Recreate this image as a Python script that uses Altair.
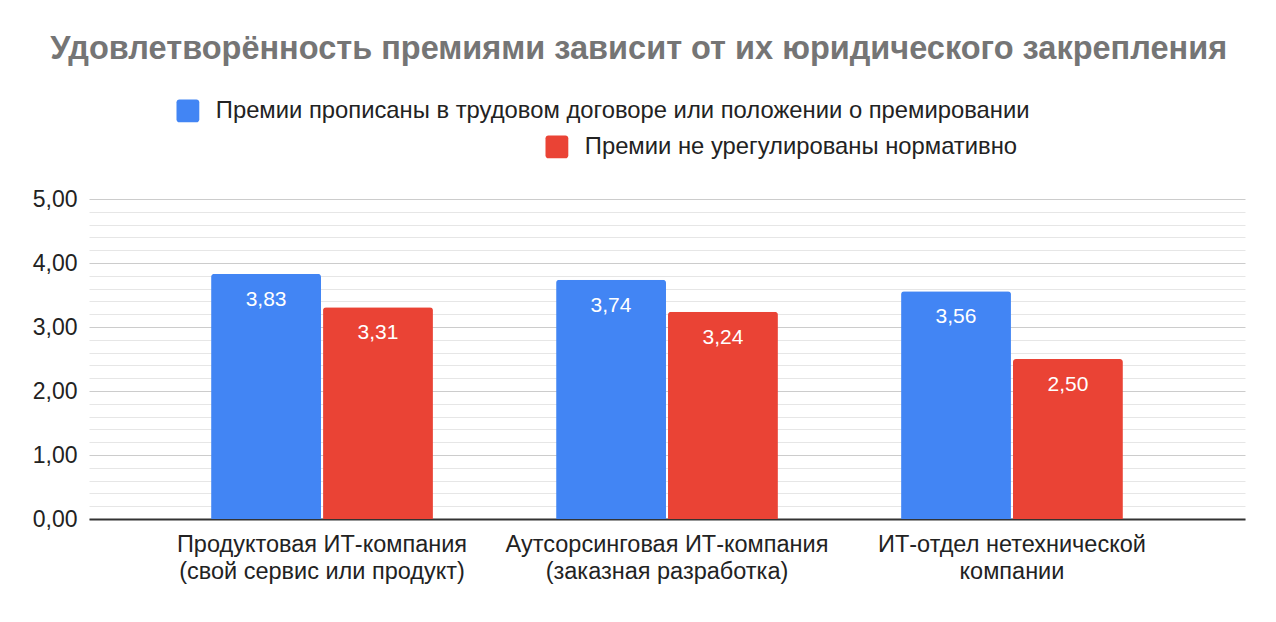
import altair as alt
import pandas as pd

categories = [
    "Продуктовая ИТ-компания\n(свой сервис или продукт)",
    "Аутсорсинговая ИТ-компания\n(заказная разработка)",
    "ИТ-отдел нетехнической\nкомпании",
]
series = [
    "Премии прописаны в трудовом договоре или положении о премировании",
    "Премии не урегулированы нормативно",
]
values_regulated = [3.83, 3.74, 3.56]
values_unregulated = [3.31, 3.24, 2.50]
colors = ["#4285F4", "#EA4335"]

rows = []
for c, v in zip(categories, values_regulated):
    rows.append({"cat": c, "series": series[0], "v": v})
for c, v in zip(categories, values_unregulated):
    rows.append({"cat": c, "series": series[1], "v": v})
df = pd.DataFrame(rows)

rounded = ("M -0.75 -1 L 0.75 -1 A 0.25 0.25 0 0 1 1 -0.75 L 1 0.75 "
           "A 0.25 0.25 0 0 1 0.75 1 L -0.75 1 A 0.25 0.25 0 0 1 -1 0.75 "
           "L -1 -0.75 A 0.25 0.25 0 0 1 -0.75 -1 Z")

FONT = "Liberation Sans"

x_enc = alt.X(
    "cat:N",
    sort=categories,
    scale=alt.Scale(paddingInner=0.357, paddingOuter=0.354),
    axis=alt.Axis(
        title=None,
        labelAngle=0,
        labelExpr="split(datum.label, '\\n')",
        labelFont=FONT,
        labelFontSize=23.5,
        labelColor="#222222",
        labelPadding=13,
        labelLineHeight=27,
        labelLimit=1000,
        ticks=False,
        domain=True,
        domainColor="#333333",
        domainWidth=2,
        grid=False,
    ),
)
xoff = alt.XOffset("series:N", sort=series, scale=alt.Scale(paddingInner=0.018, paddingOuter=0))

y_axis = alt.Axis(
    title=None,
    tickCount=25,
    labelExpr="datum.value % 1 === 0 ? replace(format(datum.value, '.2f'), '.', ',') : ''",
    labelFont=FONT,
    labelFontSize=23,
    labelColor="#222222",
    labelPadding=12,
    labelOverlap=False,
    ticks=False,
    domain=False,
    grid=True,
    gridColor={"condition": {"test": "datum.value % 1 === 0", "value": "#cccccc"}, "value": "#e6e6e6"},
    gridWidth=1,
)
y_enc = alt.Y("v:Q", scale=alt.Scale(domain=[0, 5], nice=False), axis=y_axis)

base = alt.Chart(df)


def bar_layer(i, lx, ly):
    return base.transform_filter(alt.datum.series == series[i]).mark_bar(
        cornerRadiusTopLeft=3, cornerRadiusTopRight=3
    ).encode(
        x=x_enc,
        xOffset=xoff,
        y=y_enc,
        color=alt.Color(
            "series:N",
            scale=alt.Scale(domain=[series[i]], range=[colors[i]]),
            legend=alt.Legend(
                title=None,
                orient="none",
                legendX=lx,
                legendY=ly,
                symbolType=rounded,
                symbolSize=520,
                symbolStrokeWidth=0,
                labelFont=FONT,
                labelFontSize=23.8,
                labelColor="#222222",
                labelOffset=16,
                labelLimit=1000,
                padding=0,
            ),
        ),
    )


bars1 = bar_layer(0, 87, -100)
bars2 = bar_layer(1, 456, -64)

labels = base.mark_text(
    font=FONT, fontSize=21, color="white", baseline="alphabetic", dy=32
).encode(
    x=alt.X("cat:N", sort=categories),
    xOffset=alt.XOffset("series:N", sort=series),
    y=alt.Y("v:Q"),
    text=alt.Text("label:N"),
).transform_calculate(label="replace(format(datum.v, '.2f'), '.', ',')")

chart = alt.layer(bars1, bars2, labels).resolve_scale(color="independent").properties(
    width=1156,
    height=320,
    view=alt.ViewBackground(stroke="transparent", strokeWidth=0),
    autosize=alt.AutoSizeParams(type="none"),
    padding={"left": 89, "top": 199, "right": 31, "bottom": 103},
    title=alt.TitleParams(
        "Удовлетворённость премиями зависит от их юридического закрепления",
        font="Liberation Sans",
        fontSize=32.5,
        fontWeight="bold",
        color="#757575",
        anchor="middle",
        frame="bounds",
        offset=34,
    ),
).configure_view(stroke="transparent", strokeWidth=0).configure(background="white")

chart.save("out.html", embed_options={"renderer": "svg", "actions": False})
